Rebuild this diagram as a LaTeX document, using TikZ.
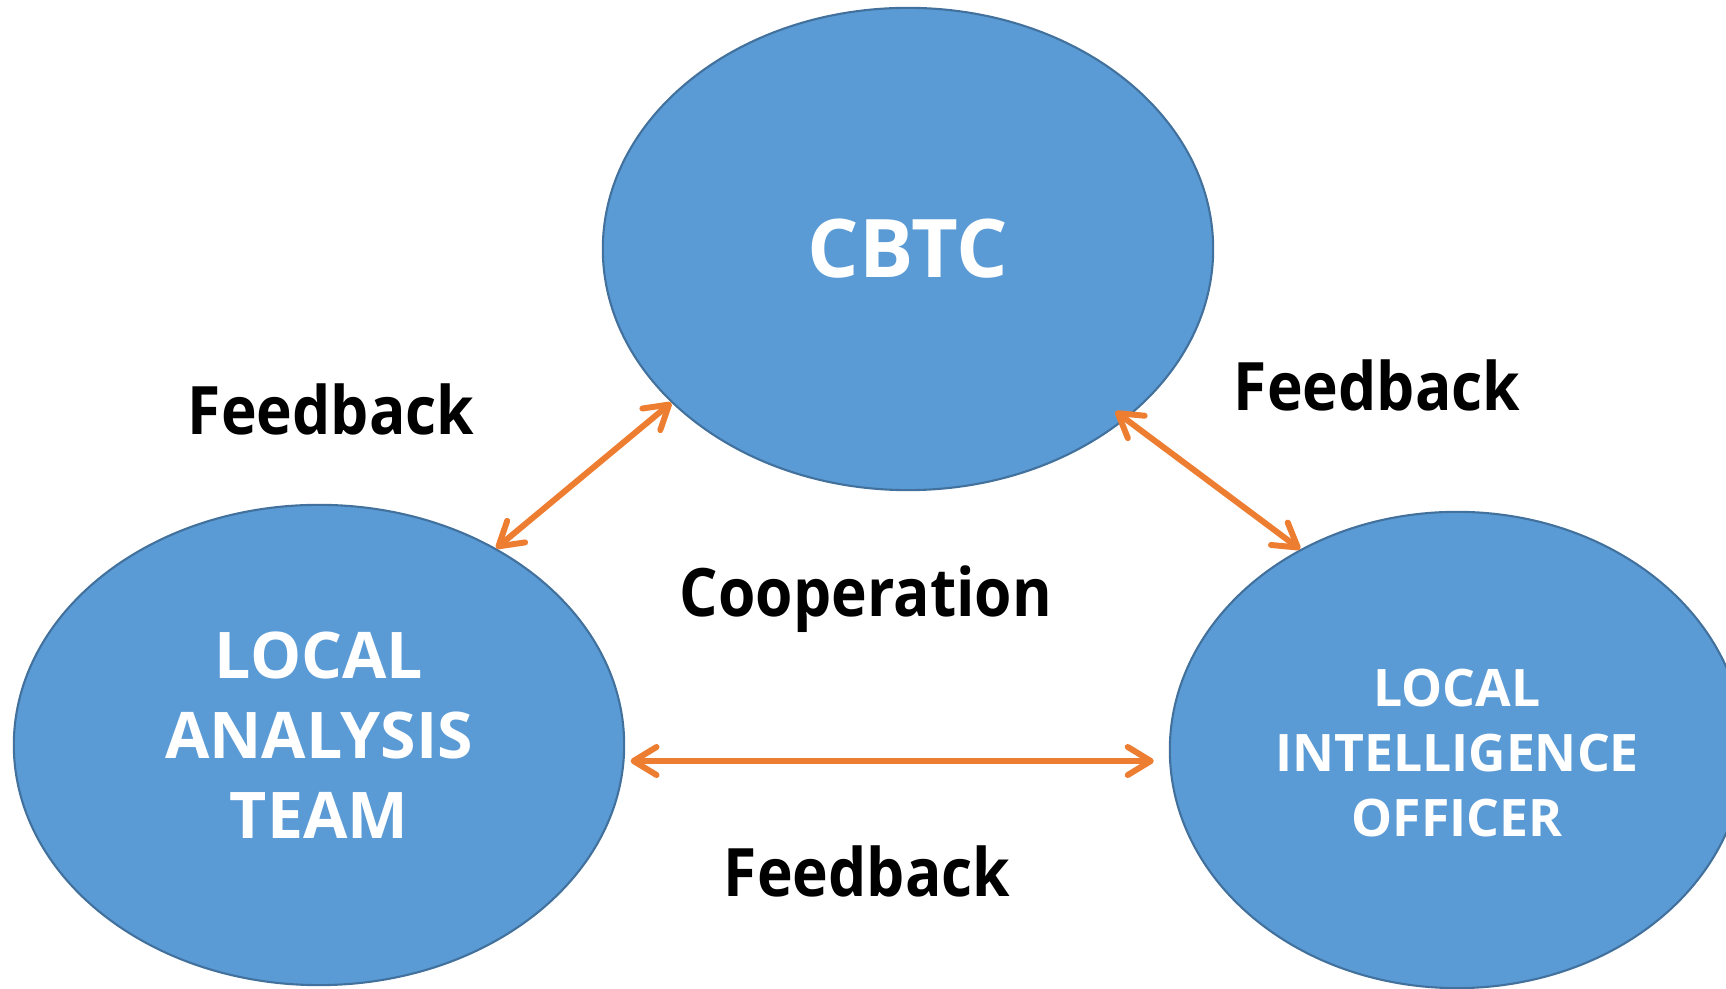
\documentclass[tikz,border=0pt]{standalone}
\usepackage{fontspec}
\setmainfont{Open Sans}
\newfontfamily\wordfont{Open Sans}[FakeStretch=0.905]
\usetikzlibrary{shapes.geometric,arrows.meta}
\definecolor{bubble}{HTML}{5B9BD5}
\definecolor{bubbleline}{HTML}{41719C}
\definecolor{link}{HTML}{ED7D31}
\begin{document}
\begin{tikzpicture}[x=0.01cm,y=-0.01cm,
  bubble/.style={ellipse,draw=bubbleline,fill=bubble,line width=0.6pt,inner sep=0pt},
  inside/.style={text=white,align=center},
  fb/.style={draw=link,line width=1.7pt,<->},
  >={Straight Barb[length=2.3mm,width=2.8mm,round]},
  word/.style={font=\wordfont\fontsize{19}{23}\selectfont\bfseries,anchor=base}]
\useasboundingbox (0,0) rectangle (1726,989);

\node[bubble,minimum width=6.1cm,minimum height=4.82cm] (cbtc) at (908,249) {};
\node[bubble,minimum width=6.1cm,minimum height=4.8cm] (lat) at (319,745) {};
\node[bubble,minimum width=5.74cm,minimum height=4.76cm] (lio) at (1457,750) {};

\node[inside,font=\fontsize{23}{28}\selectfont\bfseries] (cbtctext) at (cbtc.center) {CBTC};
\node[inside,font=\fontsize{18.3}{22.8}\selectfont\bfseries] (lattext) at (319,735) {LOCAL\\ANALYSIS\\TEAM};
\node[inside,font=\fontsize{14.7}{18.5}\selectfont\bfseries] (liotext) at (1457,753) {LOCAL\\INTELLIGENCE\\OFFICER};

% arrows
\draw[fb] (lat.48.9) -- (cbtc.213.3);
\draw[fb,shorten <=-0.13cm] (cbtc.322.2) -- (lio.128.8);
\draw[fb,shorten <=0.06cm,shorten >=0.15cm] (lat.-3) -- (lat.-3 -| lio.west);

\node[word] (fbleft) at (331,435) {Feedback};
\node[word] (fbright) at (1377,411) {Feedback};
\node[word] (coop) at (866,617) {Cooperation};
\node[word] (fbbottom) at (867,897) {Feedback};
\end{tikzpicture}
\end{document}
